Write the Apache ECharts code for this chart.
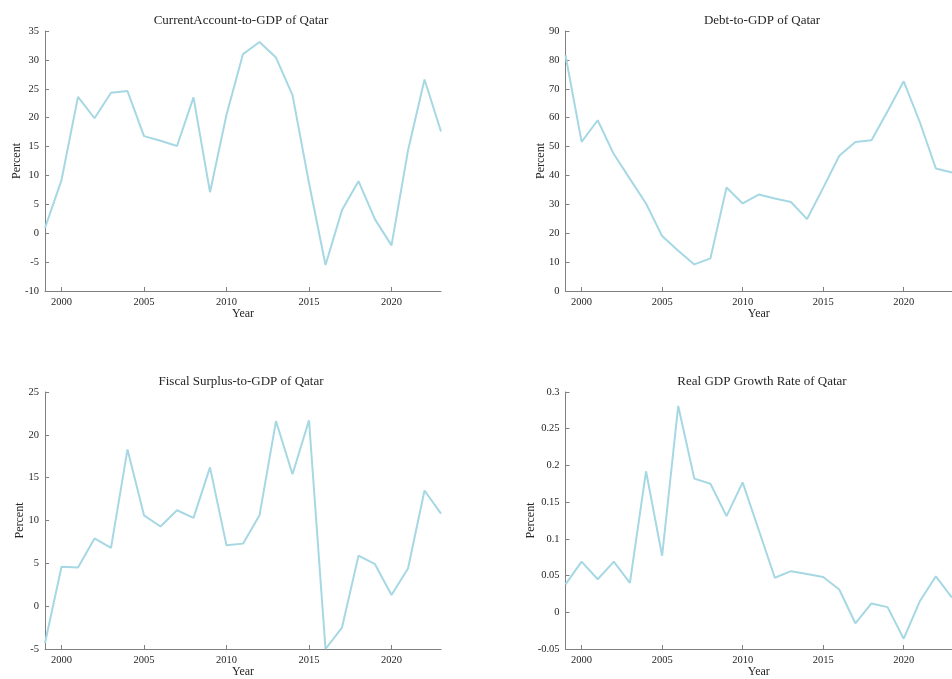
<!DOCTYPE html>
<html>
<head>
<meta charset="utf-8">
<script src="https://cdn.jsdelivr.net/npm/echarts@6/dist/echarts.min.js"></script>
<style>
html,body{margin:0;padding:0;background:#fff;}
#chart{width:952px;height:679px;}
</style>
</head>
<body>
<div id="chart"></div>
<script>
const years = [1999,2000,2001,2002,2003,2004,2005,2006,2007,2008,2009,2010,2011,2012,2013,2014,2015,2016,2017,2018,2019,2020,2021,2022,2023];
const currentAccount = [0.9,9.2,23.6,19.9,24.3,24.6,16.8,16.0,15.1,23.5,7.1,20.5,31.0,33.1,30.4,23.9,8.7,-5.5,4.0,9.0,2.4,-2.1,14.3,26.6,17.6];
const debt = [81.6,51.6,59.1,47.4,38.8,30.3,19.0,13.9,9.2,11.3,35.8,30.3,33.4,32.0,30.8,24.9,35.7,46.8,51.6,52.2,62.2,72.6,58.5,42.4,41.0];
const fiscal = [-4.3,4.6,4.5,7.9,6.8,18.3,10.6,9.3,11.2,10.3,16.2,7.1,7.3,10.6,21.6,15.4,21.7,-5.0,-2.5,5.9,4.9,1.3,4.4,13.5,10.8];
const gdpGrowth = [0.038,0.069,0.045,0.069,0.040,0.192,0.077,0.281,0.182,0.175,0.131,0.177,0.112,0.047,0.056,0.052,0.048,0.031,-0.015,0.012,0.007,-0.036,0.015,0.049,0.020];
const xTicks = [2000,2005,2010,2015,2020];
const titles = ['CurrentAccount-to-GDP of Qatar','Debt-to-GDP of Qatar','Fiscal Surplus-to-GDP of Qatar','Real GDP Growth Rate of Qatar'];
const yRanges = [[-10,35,5],[0,90,10],[-5,25,5],[-0.05,0.3,0.05]];
const seriesData = [currentAccount, debt, fiscal, gdpGrowth];

const FONT = 'Liberation Serif';
const TXT = '#262626';
const AX = '#808080';
const LINE = '#a6d8e3';

const grids = [
  {left:45, top:31, width:396, height:260},
  {left:565.5, top:31, width:397, height:260},
  {left:45, top:392, width:396, height:260},
  {left:565.5, top:392, width:397, height:260}
];
const yNameGaps = [22, 19, 19, 29];

const option = {
  backgroundColor:'#fff',
  animation:false,
  title: grids.map((g,i)=>({
    text: titles[i],
    left: g.left + g.width/2 - 2,
    top: g.top - 17,
    padding:0,
    textAlign:'center',
    textStyle:{fontFamily:FONT, fontSize:13, fontWeight:'normal', color:TXT}
  })),
  grid: grids,
  xAxis: grids.map((g,i)=>({
    type:'value', gridIndex:i, min:1999, max:2023,
    name:'Year', nameLocation:'middle', nameGap:17, nameMoveOverlap:false,
    nameTextStyle:{fontFamily:FONT, fontSize:12, color:TXT},
    axisLine:{show:true, onZero:false, lineStyle:{color:AX, width:1}},
    axisTick:{show:true, inside:true, length:4, customValues:xTicks, lineStyle:{color:AX}},
    axisLabel:{customValues:xTicks, fontFamily:FONT, fontSize:10.5, color:TXT, margin:6,
      formatter:(v)=>String(v)},
    splitLine:{show:false}
  })),
  yAxis: grids.map((g,i)=>({
    type:'value', gridIndex:i, min:yRanges[i][0], max:yRanges[i][1], interval:yRanges[i][2],
    name:'Percent', nameLocation:'middle', nameGap:yNameGaps[i], nameMoveOverlap:false,
    nameTextStyle:{fontFamily:FONT, fontSize:12, color:TXT},
    axisLine:{show:true, onZero:false, lineStyle:{color:AX, width:1}},
    axisTick:{show:true, inside:true, length:4, lineStyle:{color:AX}},
    axisLabel:{fontFamily:FONT, fontSize:10.5, color:TXT, margin:6,
      formatter:(v)=>String(parseFloat(v.toFixed(4)))},
    splitLine:{show:false}
  })),
  series: seriesData.map((d,i)=>({
    type:'line', xAxisIndex:i, yAxisIndex:i,
    data: years.map((y,j)=>[y,d[j]]),
    showSymbol:false, symbol:'none',
    lineStyle:{color:LINE, width:2},
    clip:true
  }))
};
const chart = echarts.init(document.getElementById('chart'), null, {renderer:'canvas'});
chart.setOption(option);
</script>
</body>
</html>
